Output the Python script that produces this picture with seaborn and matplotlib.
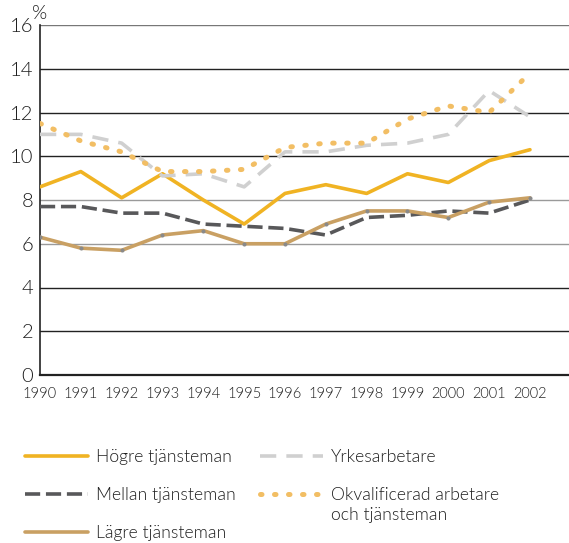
import numpy as np
import pandas as pd
import matplotlib
matplotlib.use("Agg")
import matplotlib.pyplot as plt
import seaborn as sns
from matplotlib.lines import Line2D

years = list(range(1990, 2003))
hogre = [8.6, 9.3, 8.1, 9.2, 8.0, 6.9, 8.3, 8.7, 8.3, 9.2, 8.8, 9.8, 10.3]
mellan = [7.7, 7.7, 7.4, 7.4, 6.9, 6.8, 6.7, 6.4, 7.2, 7.3, 7.5, 7.4, 8.0]
lagre = [6.3, 5.8, 5.7, 6.4, 6.6, 6.0, 6.0, 6.9, 7.5, 7.5, 7.2, 7.9, 8.1]
yrkes = [11.0, 11.0, 10.6, 9.1, 9.2, 8.6, 10.2, 10.2, 10.5, 10.6, 11.0, 13.0, 11.8]
okval = [11.5, 10.7, 10.2, 9.3, 9.3, 9.4, 10.4, 10.6, 10.6, 11.7, 12.3, 12.0, 13.8]
labels = ["Högre tjänsteman", "Mellan tjänsteman", "Lägre tjänsteman",
          "Yrkesarbetare", "Okvalificerad arbetare"]
label_extra = "och tjänsteman"
yticks = [0, 2, 4, 6, 8, 10, 12, 14, 16]

sns.set_theme(style="white")
plt.rcParams['font.family'] = ['Lato', 'DejaVu Sans']

TXT = "#1e1e1e"
FAM = ['Lato', 'DejaVu Sans']
W = 300
fig = plt.figure(figsize=(5.69, 5.43), dpi=100)
ax = fig.add_axes([40/569, 1-375/543, 1-40/569, 350/543])

# gridlines
for v in yticks[1:]:
    col = "#9a9a9a" if v in (6, 8) else ("#777777" if v == 16 else "#222222")
    ax.axhline(v, color=col, lw=1.0, zorder=1)

styles = [
    dict(color="#F0B323", dashes=None, lw=2.6),
    dict(color="#58585A", dashes=(4.2, 1.6), lw=2.6),
    dict(color="#C9A063", dashes=None, lw=2.6),
    dict(color="#D0D0D0", dashes=(4.5, 2.8), lw=2.6),
    dict(color="#F2BE64", dashes=(0.3, 2.5), lw=3.6),
]
series = [hogre, mellan, lagre, yrkes, okval]
order = [3, 4, 0, 1, 2]
handles = [None]*5
for i in order:
    df = pd.DataFrame({"year": years, "value": series[i]})
    st = styles[i]
    sns.lineplot(data=df, x="year", y="value", ax=ax, color=st["color"],
                 lw=st["lw"], zorder=3 + i, legend=False)
    ln = ax.lines[-1]
    if st["dashes"] is not None:
        ln.set_dashes(st["dashes"])
    if i == 4:
        ln.set_dash_capstyle("round")
    if i == 2:
        ln.set_marker("o")
        ln.set_markersize(2.2)
        ln.set_markerfacecolor("#8a8a8a")
        ln.set_markeredgecolor("#8a8a8a")
    h = Line2D([], [], color=st["color"], lw=st["lw"])
    if st["dashes"] is not None:
        h.set_dashes(st["dashes"])
    if i == 4:
        h.set_dash_capstyle("round")
    handles[i] = h

ax.set_xlim(1990, 2002 + 39/40.8)
ax.set_ylim(0, 16)
ax.set_yticks(yticks)
ax.set_xticks(years)
ax.set_xticklabels([str(y) for y in years], fontsize=10.5, color=TXT, fontweight=W)
ax.set_yticklabels([str(v) for v in yticks], fontsize=14.5, color=TXT, fontweight=W)
ax.tick_params(axis="x", length=0, pad=9)
ax.tick_params(axis="y", length=0, pad=5)
ax.set_xlabel("")
ax.set_ylabel("")
for s in ["top", "right"]:
    ax.spines[s].set_visible(False)
ax.spines["left"].set_color("#222222")
ax.spines["left"].set_linewidth(1.2)
ax.spines["bottom"].set_color("#222222")
ax.spines["bottom"].set_linewidth(1.6)
ax.text(0.0, 1.008, "%", transform=ax.transAxes, fontsize=14, color=TXT,
        ha="center", va="bottom", fontweight=W)

lkw = dict(loc="upper left", frameon=False, handlelength=3.6,
           handletextpad=0.45, labelspacing=1.25, labelcolor=TXT,
           prop=dict(family=FAM, weight=W, size=12.7))
leg1 = fig.legend(handles[:3], labels[:3], bbox_to_anchor=(9/569, 1-433/543), **lkw)
leg2 = fig.legend(handles[3:], labels[3:], bbox_to_anchor=(244/569, 1-433/543), **lkw)

fig.canvas.draw()
t = leg2.get_texts()[1]
bb = t.get_window_extent(renderer=fig.canvas.get_renderer())
fig.text(bb.x0 / fig.bbox.width, (bb.y0 - 20) / fig.bbox.height, label_extra,
         fontsize=12.7, color=TXT, family=FAM, fontweight=W, ha="left", va="bottom")

fig.savefig("out.png", dpi=100)
